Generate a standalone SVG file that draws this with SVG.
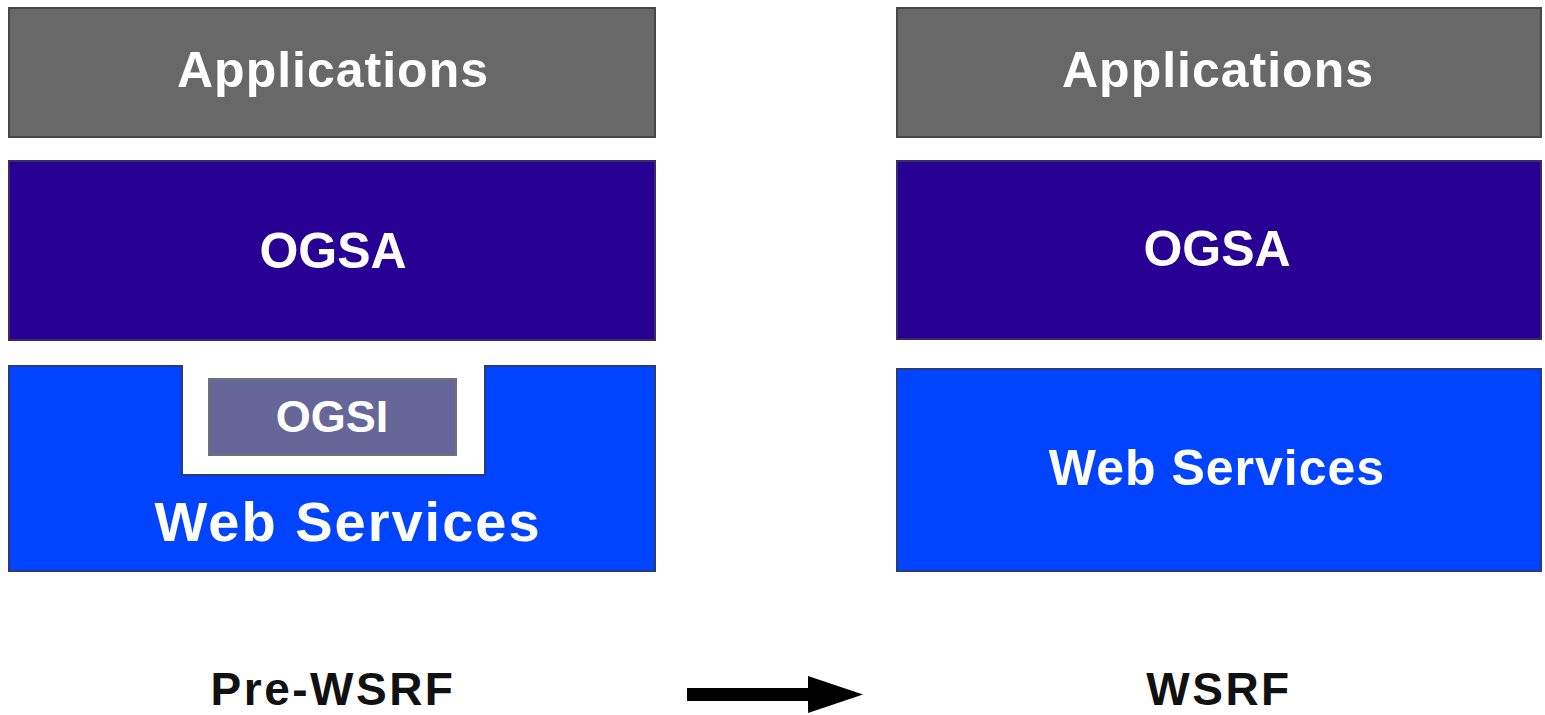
<svg xmlns="http://www.w3.org/2000/svg" width="1545" height="715" viewBox="0 0 1545 715">
  <style>
    .apps { fill: #686868; stroke: #484848; stroke-width: 2; }
    .ogsa { fill: #290094; stroke: #3a2a6a; stroke-width: 2; }
    .ws { fill: #0044ff; stroke: #2a3a80; stroke-width: 2; }
    .ogsi { fill: #666699; stroke: #707078; stroke-width: 2; }
    .lbl { font-family: "Liberation Sans", Arial, sans-serif; font-weight: bold; fill: #ffffff; text-anchor: middle; }
    .cap { font-family: "Liberation Sans", Arial, sans-serif; font-weight: bold; fill: #111111; text-anchor: middle; font-size: 46px; letter-spacing: 2.5px; }
  </style>
  <rect width="1545" height="715" fill="#ffffff"/>

  <!-- Pre-WSRF stack -->
  <g id="pre-applications">
    <rect class="apps" x="9" y="8" width="646" height="129"/>
    <text class="lbl" x="333" y="87" font-size="50" letter-spacing="1">Applications</text>
  </g>
  <g id="pre-ogsa">
    <rect class="ogsa" x="9" y="161" width="646" height="179"/>
    <text class="lbl" x="333" y="268" font-size="50">OGSA</text>
  </g>
  <g id="pre-webservices">
    <path class="ws" d="M9,366 H182 V475 H485 V366 H655 V571 H9 Z"/>
    <text class="lbl" x="348" y="541" font-size="56" letter-spacing="2">Web Services</text>
  </g>
  <g id="pre-ogsi">
    <rect class="ogsi" x="209" y="379" width="247" height="76"/>
    <text class="lbl" x="332" y="432" font-size="45">OGSI</text>
  </g>
  <text class="cap" x="333" y="705">Pre-WSRF</text>

  <!-- WSRF stack -->
  <g id="wsrf-applications">
    <rect class="apps" x="897" y="8" width="644" height="129"/>
    <text class="lbl" x="1218" y="87" font-size="50" letter-spacing="1">Applications</text>
  </g>
  <g id="wsrf-ogsa">
    <rect class="ogsa" x="897" y="161" width="644" height="178"/>
    <text class="lbl" x="1217" y="266" font-size="50">OGSA</text>
  </g>
  <g id="wsrf-webservices">
    <rect class="ws" x="897" y="369" width="644" height="202"/>
    <text class="lbl" x="1217" y="485" font-size="50" letter-spacing="1">Web Services</text>
  </g>
  <text class="cap" x="1219" y="705">WSRF</text>

  <!-- transition arrow -->
  <g id="connectors">
    <rect x="687" y="688" width="124" height="13" fill="#000000"/>
    <polygon points="808,676 863,694.5 808,713" fill="#000000"/>
  </g>
</svg>
